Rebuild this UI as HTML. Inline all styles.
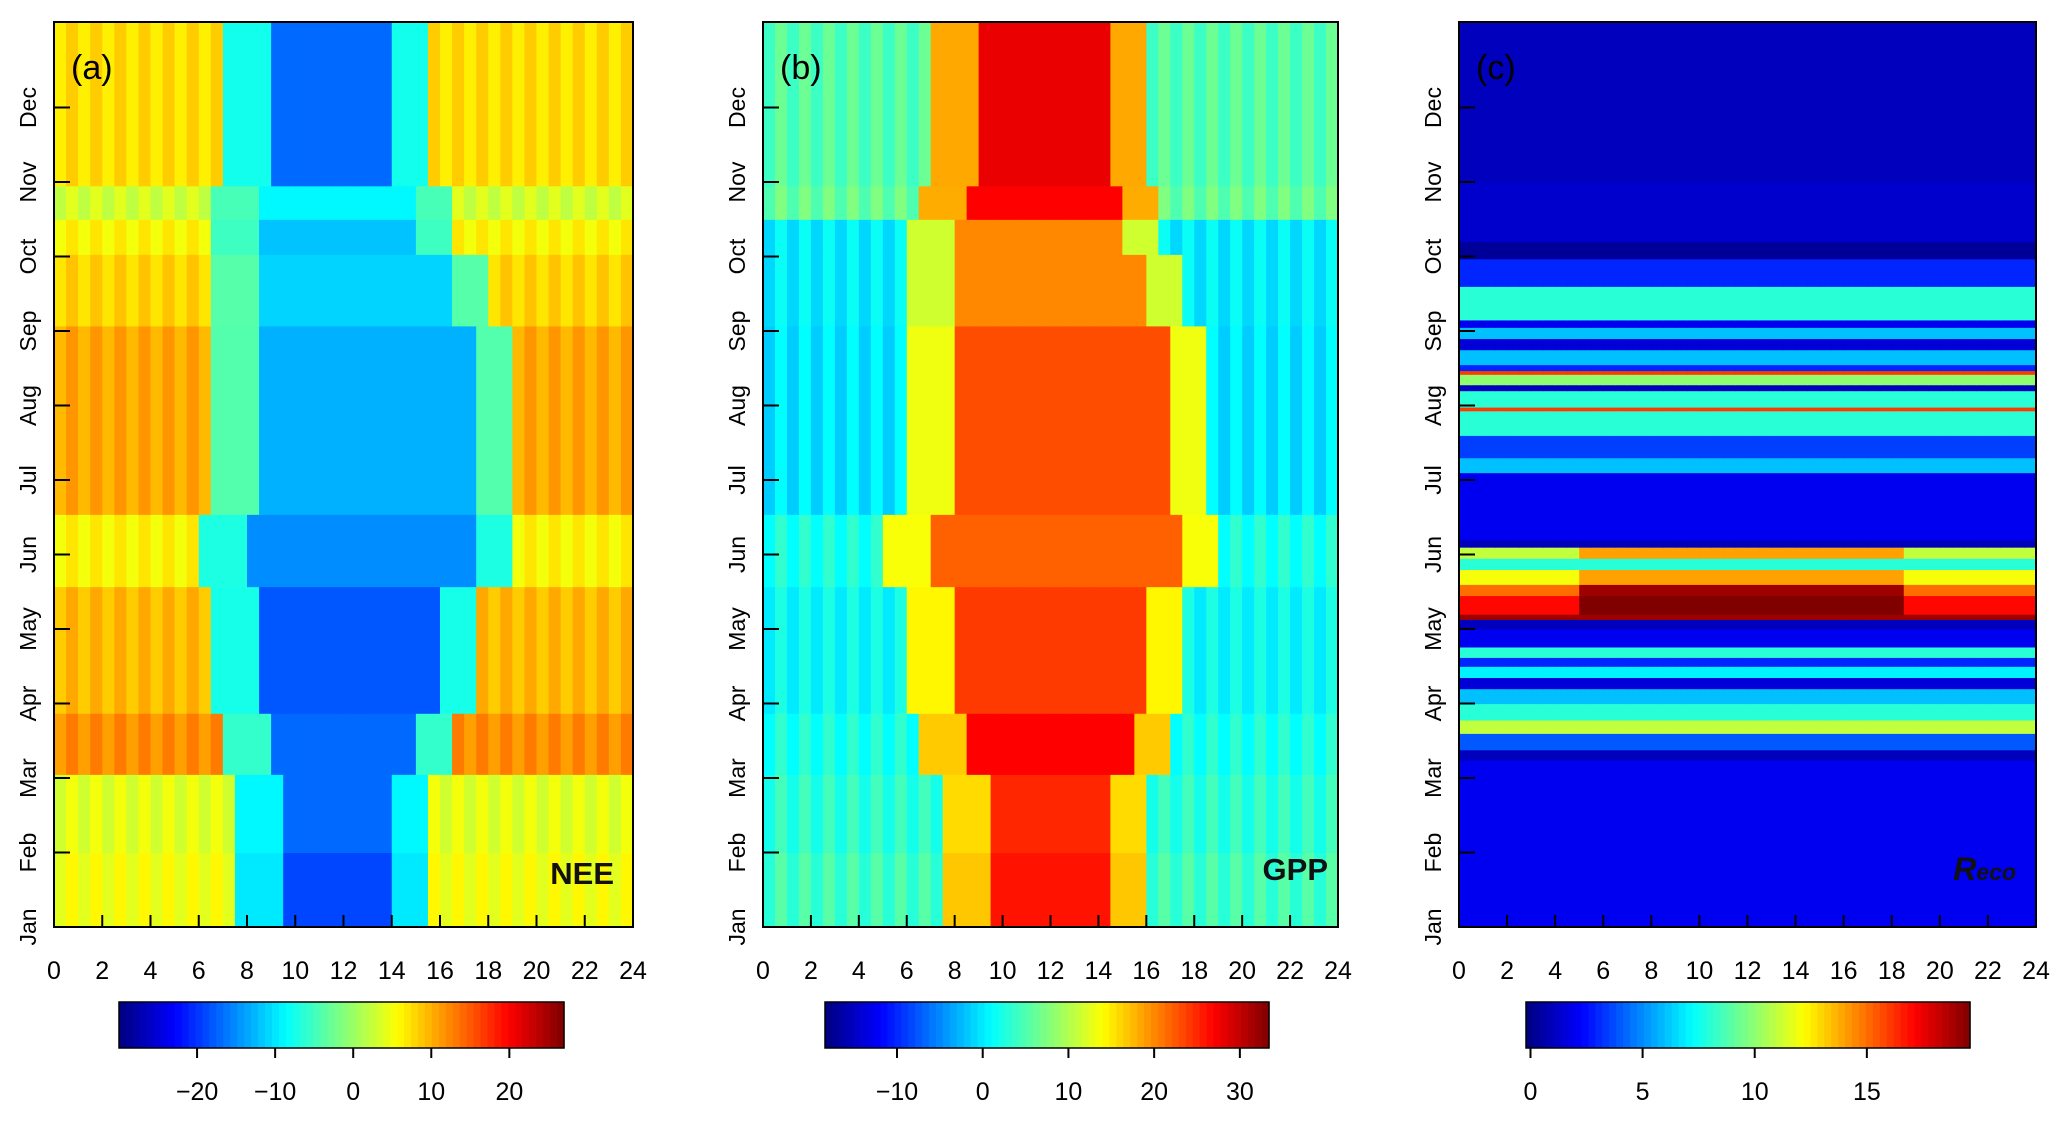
<!DOCTYPE html>
<html><head><meta charset="utf-8"><style>
html,body{margin:0;padding:0;background:#fff;}
svg{display:block;font-family:"Liberation Sans",Arial,sans-serif;}
</style></head><body>
<svg id="fig" width="2067" height="1143" viewBox="0 0 2067 1143" xmlns="http://www.w3.org/2000/svg"></svg>
<script>
// ---- data ----
const months = ["Jan","Feb","Mar","Apr","May","Jun","Jul","Aug","Sep","Oct","Nov","Dec"];
const hourTicks = [0,2,4,6,8,10,12,14,16,18,20,22,24];

const neeBandStart = [0, 1.0, 2.05, 2.87, 4.57, 5.54, 8.07, 9.03, 9.5, 9.95];
const neeBandEnd   = [1.0, 2.05, 2.87, 4.57, 5.54, 8.07, 9.03, 9.5, 9.95, 12.2];
const neeNight     = [4, 3, 11, 8.5, 5, 9.5, 7, 5, 2, 6.5];
const neeDay       = [-19, -17, -17, -18, -15, -13, -11, -12, -9, -17];
const neeSunrise   = [8, 8, 7.5, 7, 6.5, 7, 7, 7, 7, 7.5];
const neeSunset    = [15.5, 15.5, 16.5, 17.5, 19, 19, 18, 16.5, 16.5, 15.5];
const neeTicks     = [-20, -10, 0, 10, 20];
const neeRange     = [-30, 27];

const gppBandStart = [0, 1.0, 2.05, 2.87, 4.57, 5.54, 8.07, 9.03, 9.5, 9.95];
const gppBandEnd   = [1.0, 2.05, 2.87, 4.57, 5.54, 8.07, 9.03, 9.5, 9.95, 12.2];
const gppNight     = [3, 2, 1, 0, 1, -1.5, -1, -1, 5, 4];
const gppDay       = [26, 25, 27, 24, 22, 23, 20, 20, 27, 28];
const gppSunrise   = [8, 8, 7, 6.5, 5.5, 6.5, 6.5, 6.5, 7, 7.5];
const gppSunset    = [16, 16, 17, 17.5, 19, 18.5, 17.5, 16.5, 16.5, 16];
const gppTicks     = [-10, 0, 10, 20, 30];
const gppRange     = [-18.4, 33.4];

const recoSegStart = [0, 2.24, 2.38, 2.6, 2.78, 3.0, 3.2, 3.35, 3.5, 3.62, 3.76, 4.0, 4.13, 4.2, 4.45, 4.6, 4.8, 4.95, 5.1, 5.2, 6.1, 6.3, 6.6, 6.93, 6.98, 7.2, 7.28, 7.42, 7.47, 7.55, 7.75, 7.9, 8.05, 8.15, 8.6, 8.97, 9.2, 10];
const recoSegVal   = [2, 1, 4, 11, 8, 6, 1.5, 7, 3, 8, 2, 1, 19, 17, 15, 12, 8, 11, 1, 2, 6, 3.5, 8, 16, 8, 1, 10, 16, 3, 6, 1.5, 6, 2, 8, 3, 0.3, 1.3, 1.0];
const recoSegBoost = [0, 0, 0, 0, 0, 0, 0, 0, 0, 0, 0, 0, 0, 3, 4, 2, 0, 3, 0, 0, 0, 0, 0, 0, 0, 0, 0, 0, 0, 0, 0, 0, 0, 0, 0, 0, 0, 0];
const recoTop = 12.2;
const recoTicks = [0, 5, 10, 15];
const recoRange = [-0.2, 19.6];

// ---- layout ----
const NS = "http://www.w3.org/2000/svg";
const svg = document.getElementById("fig");
const Y0 = 927, MPX = 74.5, PTOP = 22;
const CBY = 1002, CBH = 46;
const panels = [
  {id:"a", x0:54, x1:633, cb:[119,564], label:"(a)"},
  {id:"b", x0:763, x1:1338, cb:[825,1269], label:"(b)"},
  {id:"c", x0:1459, x1:2036, cb:[1526,1970], label:"(c)"}
];
function el(tag, attrs, parent){ const e=document.createElementNS(NS,tag); for(const k in attrs) e.setAttribute(k,attrs[k]); (parent||svg).appendChild(e); return e; }
function clamp(v){return Math.max(0,Math.min(1,v));}
function jet(t){ t=clamp(t); const r=clamp(1.5-Math.abs(4*t-3)), g=clamp(1.5-Math.abs(4*t-2)), b=clamp(1.5-Math.abs(4*t-1)); return `rgb(${Math.round(r*255)},${Math.round(g*255)},${Math.round(b*255)})`; }
function yOf(m){ return Y0 - m*MPX; }
function xOf(p,h){ return p.x0 + h/24*(p.x1-p.x0); }
function shape(h, sr, ss){ if(h<sr-0.5||h>=ss) return 0; if(h<sr+1.5||h>=ss-1.5) return 0.6; return 1; }

function drawBands(p, g, starts, ends, night, day, sr, ss, range, stripe){
  const cw=(p.x1-p.x0)/48;
  for(let i=0;i<starts.length;i++){
    const yt=Math.max(yOf(ends[i]),PTOP), yb=yOf(starts[i]);
    for(let c=0;c<48;c++){
      const h=c/2; const s=shape(h,sr[i],ss[i]);
      let v=night[i]+(day[i]-night[i])*s;
      if(s===0 && c%2===1) v+=stripe;
      const r=el("rect",{x:xOf(p,h),y:yt,width:cw+0.6,height:yb-yt+0.6,fill:jet((v-range[0])/(range[1]-range[0]))},g);
      
      
    }
  }
}
function drawReco(p, g){
  const cw=(p.x1-p.x0)/48;
  for(let i=0;i<recoSegStart.length;i++){
    const end = i+1<recoSegStart.length ? recoSegStart[i+1] : recoTop;
    const yt=Math.max(yOf(end),PTOP), yb=yOf(recoSegStart[i]);
    for(let c=0;c<48;c++){
      const h=c/2;
      let v=recoSegVal[i] + ((h>=5&&h<18.5)?recoSegBoost[i]:0);
      const r=el("rect",{x:xOf(p,h),y:yt,width:cw+0.6,height:yb-yt+0.6,fill:jet((v-recoRange[0])/(recoRange[1]-recoRange[0]))},g);
      
      
    }
  }
}
function drawColorbar(p, range, ticks){
  const g=el("g",{});
  
  
  const [a,b]=p.cb, n=64, w=(b-a)/n;
  for(let i=0;i<n;i++){ el("rect",{x:a+i*w,y:CBY,width:w+0.6,height:CBH,fill:jet((i+0.5)/n)},g); }
  el("rect",{x:a,y:CBY,width:b-a,height:CBH,fill:"none",stroke:"#000","stroke-width":1.5},g);
  ticks.forEach(t=>{
    const x=a+(t-range[0])/(range[1]-range[0])*(b-a);
    el("line",{x1:x,y1:CBY+CBH,x2:x,y2:CBY+CBH+10,stroke:"#000","stroke-width":2},g);
    const tx=el("text",{x:x,y:1100,"font-size":25,"text-anchor":"middle",fill:"#000"},g);
    
    
    tx.textContent = t<0 ? "\u2212"+Math.abs(t) : String(t);
  });
}
function drawAxes(p){
  const g=el("g",{});
  
  
  el("rect",{x:p.x0,y:PTOP,width:p.x1-p.x0,height:Y0-PTOP,fill:"none",stroke:"#000","stroke-width":2},g);
  hourTicks.forEach(h=>{
    const x=xOf(p,h);
    el("line",{x1:x,y1:Y0,x2:x,y2:Y0-12,stroke:"#000","stroke-width":2},g);
    const t=el("text",{x:x,y:979,"font-size":25,"text-anchor":"middle",fill:"#000"},g);
    
    
    t.textContent=h;
  });
  months.forEach((m,i)=>{
    const y=yOf(i);
    if(i>0) el("line",{x1:p.x0,y1:y,x2:p.x0+16,y2:y,stroke:"#000","stroke-width":2},g);
    const t=el("text",{x:0,y:0,"font-size":23,"text-anchor":"middle",fill:"#000",transform:`translate(${p.x0-18},${y}) rotate(-90)`},g);
    
    
    t.textContent=m;
  });
  const lab=el("text",{x:p.x0+17,y:79,"font-size":34,fill:"#000"},g);
  
  
  lab.textContent=p.label;
}

panels.forEach(p=>{
  const g=el("g",{});
  
  
  if(p.id==="a") drawBands(p,g,neeBandStart,neeBandEnd,neeNight,neeDay,neeSunrise,neeSunset,neeRange,2);
  if(p.id==="b") drawBands(p,g,gppBandStart,gppBandEnd,gppNight,gppDay,gppSunrise,gppSunset,gppRange,2.5);
  if(p.id==="c") drawReco(p,g);
  drawAxes(p);
});
drawColorbar(panels[0],neeRange,neeTicks);
drawColorbar(panels[1],gppRange,gppTicks);
drawColorbar(panels[2],recoRange,recoTicks);

let t1=el("text",{x:614,y:884,"font-size":31,"font-weight":"bold","text-anchor":"end",fill:"#111"});


t1.textContent="NEE";
let t2=el("text",{x:1328,y:880,"font-size":31,"font-weight":"bold","text-anchor":"end",fill:"#111"});


t2.textContent="GPP";
let t3=el("text",{x:2016,y:880,"font-size":32,"font-weight":"bold","font-style":"italic","text-anchor":"end",fill:"#111"});


t3.innerHTML='R<tspan font-size="23">eco</tspan>';
</script>
</body></html>
